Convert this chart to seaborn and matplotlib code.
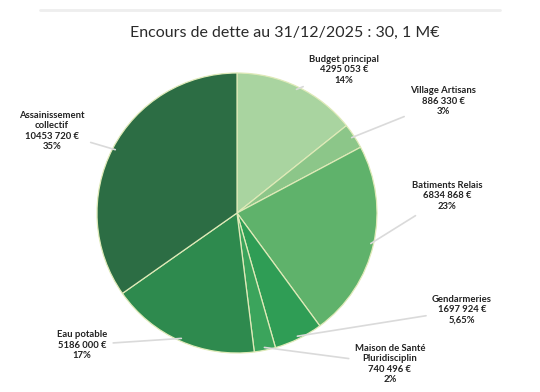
import matplotlib
matplotlib.use("Agg")
import matplotlib.pyplot as plt
import seaborn as sns
import numpy as np

categories = ["Budget principal", "Village Artisans", "Batiments Relais", "Gendarmeries",
              "Maison de Santé\nPluridisciplin", "Eau potable", "Assainissement\ncollectif"]
values = [4295053, 886330, 6834868, 1697924, 740496, 5186000, 10453720]
value_labels = ["4295 053 €", "886 330 €", "6834 868 €", "1697 924 €", "740 496 €", "5186 000 €", "10453 720 €"]
pct_labels = ["14%", "3%", "23%", "5,65%", "2%", "17%", "35%"]
title = "Encours de dette au 31/12/2025 : 30, 1 M€"

colors = ["#a9d4a0", "#8cc689", "#5fb26b", "#2f9d55", "#3ba45c", "#2e8a4e", "#2c6d44"]
label_pos = [(344, 322), (443, 291), (447, 196), (462, 82), (390, 28), (82, 47), (52, 261)]  # figure pixels

sns.set_theme(style="white")
plt.rcParams['font.family'] = ['Lato', 'DejaVu Sans']

fig = plt.figure(figsize=(5.4, 3.92), dpi=100)
cx, cy, r = 237, 392 - 213, 140
ax = fig.add_axes([(cx - r) / 540, (cy - r) / 392, 2 * r / 540, 2 * r / 392])
wedges, _ = ax.pie(values, colors=colors, startangle=90, counterclock=False,
                   wedgeprops=dict(edgecolor="#dfeab8", linewidth=0.9))
ax.set_aspect("equal")
ax.set_xlim(-1, 1)
ax.set_ylim(-1, 1)
ax.axis("off")

for w, cat, v, p, pos in zip(wedges, categories, value_labels, pct_labels, label_pos):
    ang = np.deg2rad((w.theta1 + w.theta2) / 2)
    xy = (0.98 * np.cos(ang), 0.98 * np.sin(ang))
    ax.annotate(f"{cat}\n{v}\n{p}", xy=xy, xycoords="data", xytext=pos, textcoords="figure pixels",
                ha="center", va="center", fontsize=6.8, fontweight="bold", color="#222222",
                linespacing=1.2, annotation_clip=False,
                arrowprops=dict(arrowstyle="-", color="#dadada", lw=1.2, shrinkA=2, shrinkB=0))

fig.text(285 / 540, 1 - 33 / 392, title, ha="center", va="center", fontsize=11.5, color="#2a2a2a")
fig.add_artist(plt.Line2D([40 / 540, 500 / 540], [1 - 10 / 392, 1 - 10 / 392],
                          color="#eeeeee", lw=2, transform=fig.transFigure))

fig.savefig("out.png", dpi=100, facecolor="white")
